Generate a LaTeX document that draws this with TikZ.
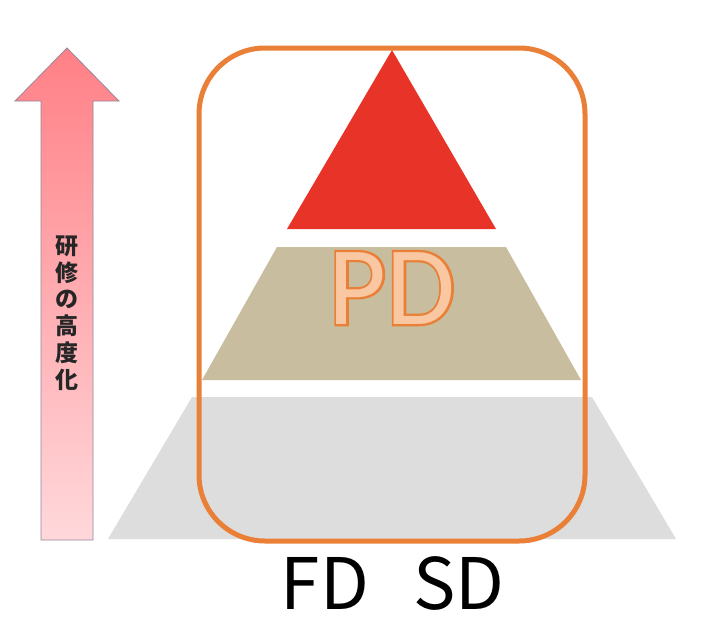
\documentclass[tikz,border=0pt]{standalone}
\usepackage{fontspec}
\newfontfamily\jpfont{Noto Sans CJK JP}
\newfontfamily\pdfill{Carlito}
\newfontfamily\pdline[FakeBold=4]{Carlito}
\definecolor{arrowtop}{RGB}{255,128,134}
\definecolor{arrowbot}{RGB}{255,216,219}
\definecolor{arrowedge}{RGB}{150,135,155}
\definecolor{graycol}{RGB}{221,221,221}
\definecolor{tancol}{RGB}{200,189,158}
\definecolor{redcol}{RGB}{232,52,40}
\definecolor{boxorange}{RGB}{234,128,55}
\definecolor{pdpeach}{RGB}{249,200,162}
\tikzset{
  pdtext/.style={anchor=base, inner sep=0},
  sdtext/.style={anchor=base, inner sep=0, font=\jpfont\fontsize{71}{71}\selectfont}
}
\begin{document}
\begin{tikzpicture}[x=1pt,y=-1pt]
\useasboundingbox (0,0) rectangle (721,638);
\fill[white] (0,0) rectangle (721,638);
% arrow
\shade[top color=arrowtop,bottom color=arrowbot,draw=arrowedge,line width=0.8pt]
  (41,540) -- (41,101) -- (15,101) -- (67,48) -- (119,101) -- (93,101) -- (93,540) -- cycle;
\node[font=\jpfont\bfseries\fontsize{23}{26.7}\selectfont, text=black!85, align=center, inner sep=0] (label) at (67,313) {研\\修\\の\\高\\度\\化};
% pyramid
\fill[graycol] (108,539) -- (192,397) -- (592,397) -- (676,539) -- cycle;
\fill[tancol] (202,380) -- (277,247) -- (506,247) -- (581,380) -- cycle;
\fill[redcol] (287,229) -- (392,50) -- (496,229) -- cycle;
% rounded frame
\draw[boxorange, line width=5pt, rounded corners=66pt] (199,48) rectangle (585,541);
% PD
\node[pdtext, text=boxorange, font=\pdline\fontsize{112}{112}\selectfont] (pdo) at (392,324) {PD};
\node[pdtext, text=pdpeach, font=\pdfill\fontsize{112}{112}\selectfont] (pd) at (392,324) {PD};
% FD SD
\node[sdtext] (fd) at (325,609) {FD};
\node[sdtext] (sd) at (459,609) {SD};
\end{tikzpicture}
\end{document}
